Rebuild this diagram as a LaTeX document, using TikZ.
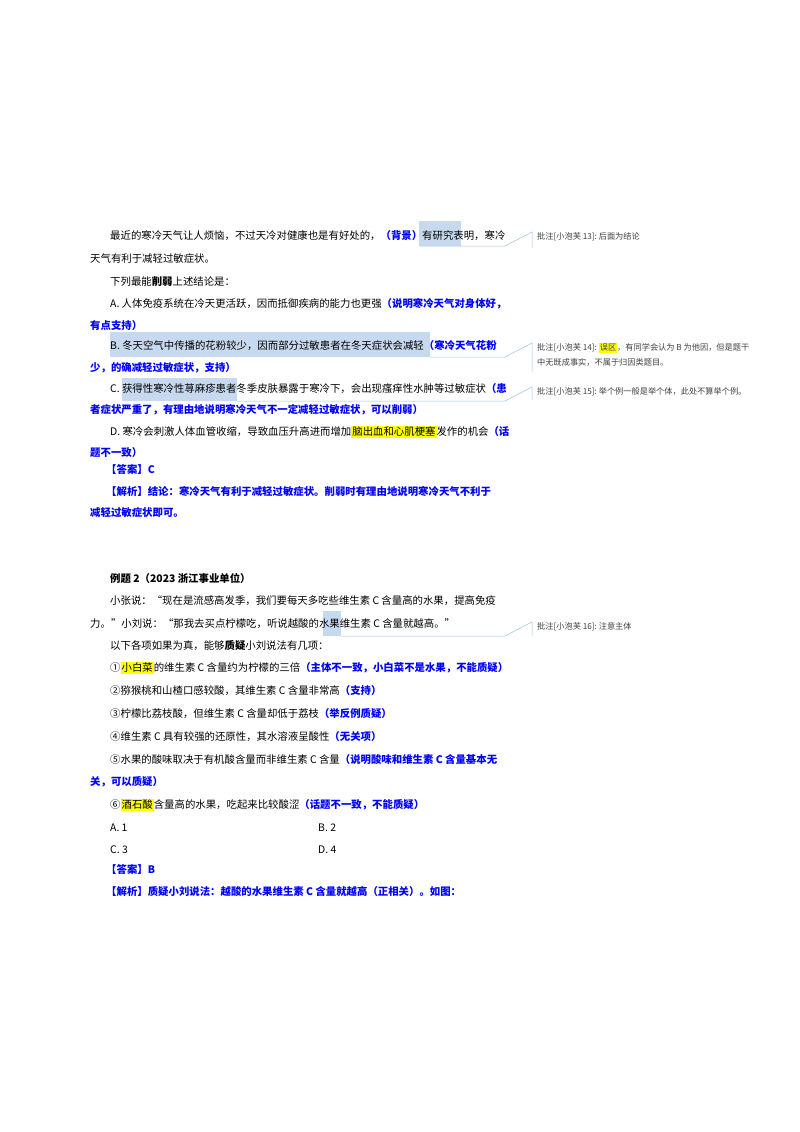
\documentclass[tikz,border=0pt]{standalone}
\usepackage{fontspec}
\setmainfont{Noto Sans CJK SC}
\newfontfamily\cjk{Noto Sans CJK SC}
\definecolor{ansblue}{RGB}{0,0,255}
\definecolor{selblue}{RGB}{199,217,238}
\definecolor{markyel}{RGB}{255,255,0}
\definecolor{linkblue}{RGB}{155,190,225}
\newcommand{\ans}[1]{\textcolor{ansblue}{\bfseries #1}}
\newcommand{\yel}[1]{\colorbox{markyel}{#1}}
\tikzset{
  txt/.style={anchor=west,inner sep=0pt,font=\cjk\fontsize{10.4}{12}\selectfont},
  note/.style={anchor=west,inner sep=0pt,font=\cjk\fontsize{8.2}{15}\selectfont,text=black!75,align=left},
  link/.style={draw=linkblue,line width=0.5pt},
  sel/.style={fill=selblue,draw=none}
}
\setlength{\fboxsep}{1pt}
\begin{document}
\begin{tikzpicture}[x=1pt,y=-1pt]
\useasboundingbox (0,0) rectangle (800,1132);
% selections
\fill[sel] (419,221) rectangle (461,246);
\fill[sel] (110,332) rectangle (430,357);
\fill[sel] (122,378) rectangle (237,401);
\fill[sel] (323,611) rectangle (341,636);
% first question
\node[txt] (p1) at (110,236) {最近的寒冷天气让人烦恼，不过天冷对健康也是有好处的，\ans{（背景）}有研究表明，寒冷};
\node[txt] (p2) at (90,259) {天气有利于减轻过敏症状。};
\node[txt] (p3) at (110,282) {下列最能\textbf{削弱}上述结论是：};
\node[txt] (qa) at (110,304) {A. 人体免疫系统在冷天更活跃，因而抵御疾病的能力也更强\ans{（说明寒冷天气对身体好，}};
\node[txt] (qa2) at (90,326) {\ans{有点支持）}};
\node[txt] (qb) at (110,346) {B. 冬天空气中传播的花粉较少，因而部分过敏患者在冬天症状会减轻\ans{（寒冷天气花粉}};
\node[txt] (qb2) at (90,368) {\ans{少，的确减轻过敏症状，支持）}};
\node[txt] (qc) at (110,389) {C. 获得性寒冷性荨麻疹患者冬季皮肤暴露于寒冷下，会出现瘙痒性水肿等过敏症状\ans{（患}};
\node[txt] (qc2) at (90,410) {\ans{者症状严重了，有理由地说明寒冷天气不一定减轻过敏症状，可以削弱）}};
\node[txt] (qd) at (110,432) {D. 寒冷会刺激人体血管收缩，导致血压升高进而增加\yel{脑出血和心肌梗塞}发作的机会\ans{（话}};
\node[txt] (qd2) at (90,453) {\ans{题不一致）}};
\node[txt] (k1) at (106,469) {\ans{【答案】C}};
\node[txt] (j1) at (106,491) {\ans{【解析】结论：寒冷天气有利于减轻过敏症状。削弱时有理由地说明寒冷天气不利于}};
\node[txt] (j1b) at (90,513) {\ans{减轻过敏症状即可。}};
% second question
\node[txt] (e2) at (110,578) {\textbf{例题 2（2023 浙江事业单位）}};
\node[txt] (s1) at (110,601) {小张说：“现在是流感高发季，我们要每天多吃些维生素 C 含量高的水果，提高免疫};
\node[txt] (s2) at (90,624) {力。”小刘说：“那我去买点柠檬吃，听说越酸的水果维生素 C 含量就越高。”};
\node[txt] (s3) at (110,646) {以下各项如果为真，能够\textbf{质疑}小刘说法有几项：};
\node[txt] (o1) at (110,668) {①\yel{小白菜}的维生素 C 含量约为柠檬的三倍\ans{（主体不一致，小白菜不是水果，不能质疑）}};
\node[txt] (o2) at (110,691) {②猕猴桃和山楂口感较酸，其维生素 C 含量非常高\ans{（支持）}};
\node[txt] (o3) at (110,714) {③柠檬比荔枝酸，但维生素 C 含量却低于荔枝\ans{（举反例质疑）}};
\node[txt] (o4) at (110,737) {④维生素 C 具有较强的还原性，其水溶液呈酸性\ans{（无关项）}};
\node[txt] (o5) at (110,760) {⑤水果的酸味取决于有机酸含量而非维生素 C 含量\ans{（说明酸味和维生素 C 含量基本无}};
\node[txt] (o5b) at (90,782) {\ans{关，可以质疑）}};
\node[txt] (o6) at (110,805) {⑥\yel{酒石酸}含量高的水果，吃起来比较酸涩\ans{（话题不一致，不能质疑）}};
\node[txt] (ca) at (110,828) {A. 1};
\node[txt] (cb) at (318,828) {B. 2};
\node[txt] (cc) at (110,850) {C. 3};
\node[txt] (cd) at (318,850) {D. 4};
\node[txt] (k2) at (106,869) {\ans{【答案】B}};
\node[txt] (j2) at (106,892) {\ans{【解析】质疑小刘说法：越酸的水果维生素 C 含量就越高（正相关）。如图：}};
% comments
\node[note] (c13) at (537,237) {批注[小泡芙 13]:\ 后面为结论};
\node[note] (c14) at (537,355) {批注[小泡芙 14]:\ \yel{误区}，有同学会认为 B 为他因，但是题干\\中无既成事实，不属于归因类题目。};
\node[note] (c15) at (537,392) {批注[小泡芙 15]:\ 举个例一般是举个体，此处不算举个例。};
\node[note] (c16) at (537,627) {批注[小泡芙 16]:\ 注意主体};
% links
\coordinate (a13) at (420,246);
\coordinate (a14) at (430,357);
\coordinate (a15) at (237,401);
\coordinate (a16) at (341,636);
\draw[link] (a13) -- (505,246) -- (532,232) -- (532,248);
\draw[link] (a14) -- (505,357) -- (532,343) -- (532,372);
\draw[link] (a15) -- (505,401) -- (532,387) -- (532,400);
\draw[link] (a16) -- (505,636) -- (532,622) -- (532,636);
\end{tikzpicture}
\end{document}
